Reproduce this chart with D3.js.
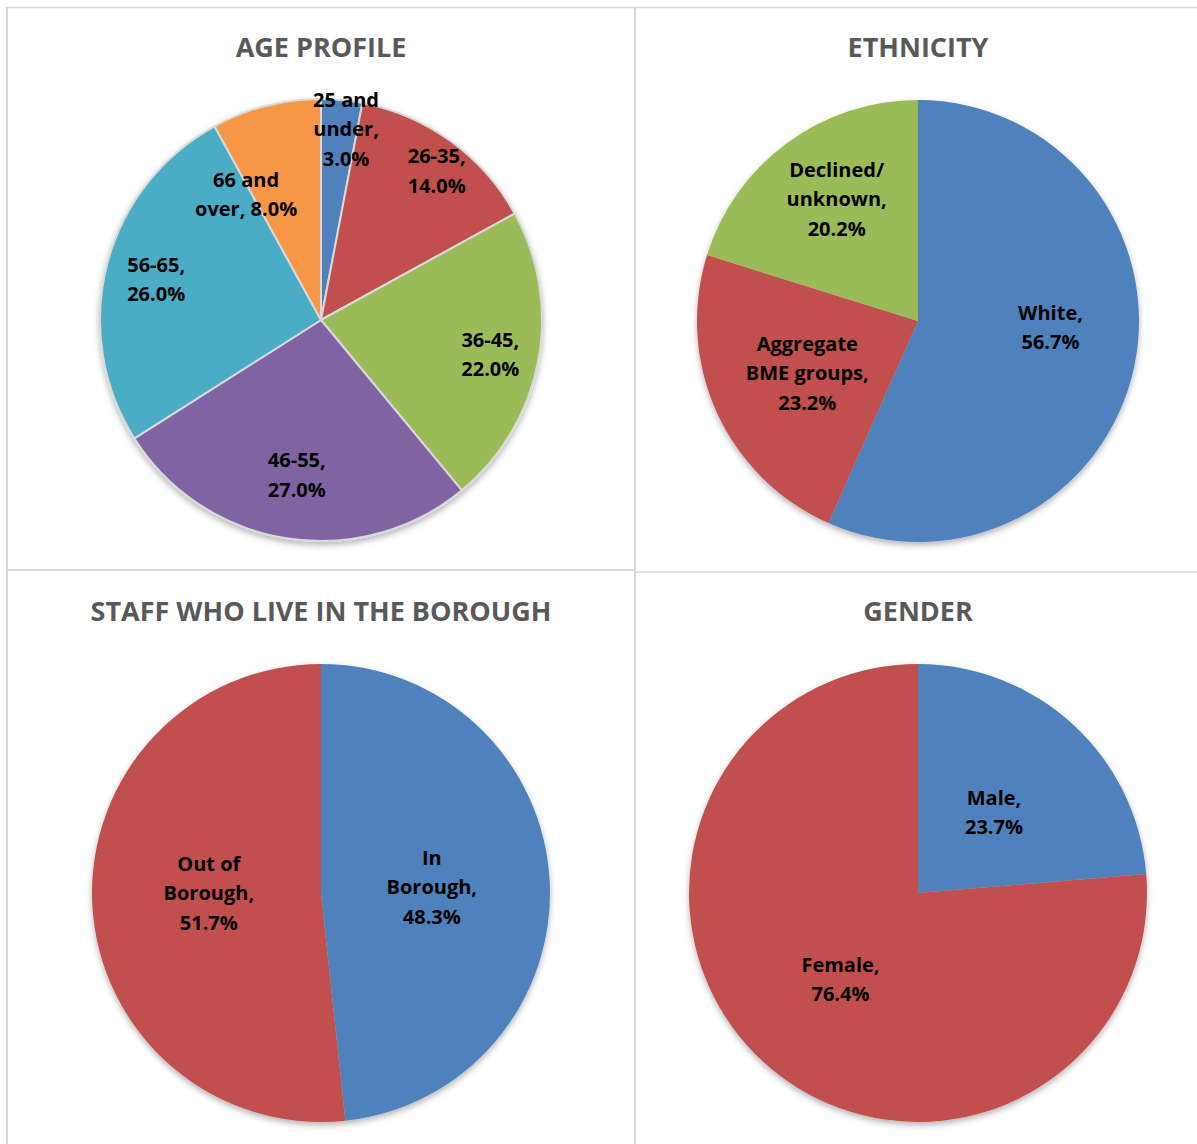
<!DOCTYPE html>
<html>
<head>
<meta charset="utf-8">
<script src="https://cdn.jsdelivr.net/npm/d3@7"></script>
<style>
  body { margin: 0; background: #fff; }
  svg { display: block; }
</style>
</head>
<body>
<svg id="chart" width="1197" height="1144"></svg>
<script>
// data
var ageCategories = ["25 and\nunder", "26-35", "36-45", "46-55", "56-65", "66 and\nover"];
var ageValues = [3.0, 14.0, 22.0, 27.0, 26.0, 8.0];

var ethnicityCategories = ["White", "Aggregate\nBME groups", "Declined/\nunknown"];
var ethnicityValues = [56.7, 23.2, 20.2];

var boroughCategories = ["In\nBorough", "Out of\nBorough"];
var boroughValues = [48.3, 51.7];

var genderCategories = ["Male", "Female"];
var genderValues = [23.7, 76.4];

var titles = ["AGE PROFILE", "ETHNICITY", "STAFF WHO LIVE IN THE BOROUGH", "GENDER"];

var palette = ["#4f81bd", "#c0504d", "#9bbb59", "#8064a2", "#4bacc6", "#f79646"];

// layout for each panel (label radius as fraction of r, small angle nudge in degrees)
var panels = [
  { cats: ageCategories, vals: ageValues, cx: 321, cy: 320, r: 221, ty: 57, stroke: true,
    labR: [0.88, 0.86, 0.78, 0.70, 0.77, 0.67], labA: [2, 1.5, 0, 0, 0, -16],
    pctOwnLine: [true, true, true, true, true, false] },
  { cats: ethnicityCategories, vals: ethnicityValues, cx: 918, cy: 321, r: 221, ty: 57, stroke: false,
    labR: [0.60, 0.55, 0.67], labA: [-10, 0, 3], pctOwnLine: [true, true, true] },
  { cats: boroughCategories, vals: boroughValues, cx: 321, cy: 893, r: 229, ty: 621, stroke: false,
    labR: [0.485, 0.49], labA: [-1, 4], pctOwnLine: [true, true] },
  { cats: genderCategories, vals: genderValues, cx: 918, cy: 893, r: 229, ty: 621, stroke: false,
    labR: [0.49, 0.50], labA: [0, 0], pctOwnLine: [true, true] }
];

var svg = d3.select("#chart");
var fmt = d3.format(".1f");

var defs = svg.append("defs");
var f = defs.append("filter").attr("id", "shadow")
  .attr("x", "-10%").attr("y", "-10%").attr("width", "120%").attr("height", "125%");
f.append("feDropShadow").attr("dx", 0).attr("dy", 3).attr("stdDeviation", 3)
  .attr("flood-color", "#000").attr("flood-opacity", 0.3);

// grid lines round the panels
var grid = svg.append("g").attr("stroke", "#d9d9d9");
grid.append("line").attr("x1", 6).attr("x2", 1197).attr("y1", 7.5).attr("y2", 7.5).attr("stroke-width", 1.5);
grid.append("line").attr("x1", 7).attr("x2", 7).attr("y1", 7).attr("y2", 1144).attr("stroke-width", 2);
grid.append("line").attr("x1", 635).attr("x2", 635).attr("y1", 7).attr("y2", 1144).attr("stroke-width", 2);
grid.append("line").attr("x1", 7).attr("x2", 635).attr("y1", 570).attr("y2", 570).attr("stroke-width", 2);
grid.append("line").attr("x1", 635).attr("x2", 1197).attr("y1", 572).attr("y2", 572).attr("stroke-width", 1.5);

var pie = d3.pie().sort(null).value(function(d) { return d.v; });

panels.forEach(function(p, k) {
  var rows = p.vals.map(function(v, i) { return { name: p.cats[i], v: v, i: i }; });
  var arcs = pie(rows);
  var arc = d3.arc().innerRadius(0).outerRadius(p.r);

  svg.append("text")
    .attr("x", p.cx).attr("y", p.ty)
    .attr("text-anchor", "middle")
    .style("font-family", "'Open Sans', 'Noto Sans', sans-serif")
    .style("font-weight", "bold")
    .style("font-size", "27px")
    .style("fill", "#595959")
    .text(titles[k]);

  var g = svg.append("g").attr("transform", "translate(" + p.cx + "," + p.cy + ")");

  g.append("g").attr("filter", "url(#shadow)")
    .selectAll("path").data(arcs).enter().append("path")
    .attr("d", arc)
    .attr("fill", function(d) { return palette[d.data.i]; })
    .attr("stroke", p.stroke ? "#d9d9d9" : "none")
    .attr("stroke-width", p.stroke ? 2 : 0)
    .attr("stroke-linejoin", "round");

  arcs.forEach(function(d) {
    var i = d.data.i;
    var a = (d.startAngle + d.endAngle) / 2 + p.labA[i] * Math.PI / 180;
    var rr = p.r * p.labR[i];
    var x = rr * Math.sin(a), y = -rr * Math.cos(a);
    var lines = d.data.name.split("\n");
    var pct = fmt(d.data.v) + "%";
    lines[lines.length - 1] += ",";
    if (p.pctOwnLine[i]) lines.push(pct);
    else lines[lines.length - 1] += " " + pct;

    var t = g.append("text")
      .attr("text-anchor", "middle")
      .style("font-family", "'Open Sans', 'Noto Sans', sans-serif")
      .style("font-weight", "bold")
      .style("font-size", "20px")
      .style("fill", "#000");
    lines.forEach(function(s, j) {
      t.append("tspan")
        .attr("x", x)
        .attr("y", y + 1.5 + (j - (lines.length - 1) / 2) * 29.5)
        .attr("dominant-baseline", "central")
        .text(s);
    });
  });
});
</script>
</body>
</html>
